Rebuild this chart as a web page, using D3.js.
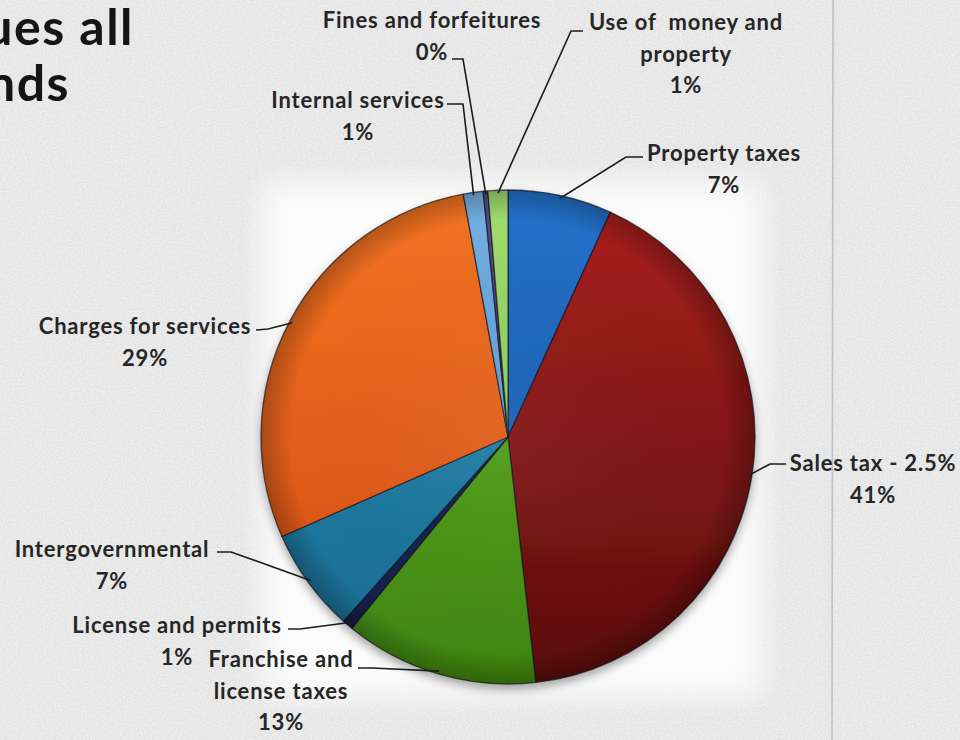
<!DOCTYPE html>
<html>
<head>
<meta charset="utf-8">
<script src="https://cdn.jsdelivr.net/npm/d3@7/dist/d3.min.js"></script>
<style>
  html, body { margin: 0; padding: 0; background: #e4e4e4; }
  svg { display: block; }
  text { font-family: Lato, "Open Sans", sans-serif; white-space: pre; }
</style>
</head>
<body>
<svg id="chart" width="960" height="740"></svg>
<script>
// Revenue sources, in pie order (clockwise from 12 o'clock)
const categories = [
  "Property taxes", "Sales tax - 2.5%", "Franchise and license taxes",
  "License and permits", "Intergovernmental", "Charges for services",
  "Internal services", "Fines and forfeitures", "Use of  money and property"
];
// Share of total revenue, percent
const shares = [6.8, 41.4, 12.7, 0.7, 6.8, 28.7, 1.3, 0.3, 1.3];
// Label text broken into lines (the percentage line is added below)
const labelLines = [
  ["Property taxes"], ["Sales tax - 2.5%"], ["Franchise and", "license taxes"],
  ["License and permits"], ["Intergovernmental"], ["Charges for services"],
  ["Internal services"], ["Fines and forfeitures"], ["Use of  money and", "property"]
];
const titleLines = ["Revenues all", "funds"];

// Slice colours: [light, dark]
const sliceColors = [
  ["#2472cc", "#144e98"],
  ["#ab211e", "#5a0c0c"],
  ["#64b626", "#3f8410"],
  ["#22306a", "#141c44"],
  ["#2c92bc", "#17688e"],
  ["#f47422", "#cf4a14"],
  ["#74b0e2", "#4a8ac8"],
  ["#5a4c86", "#3a3060"],
  ["#a2dc70", "#74b842"]
];

// Label placement: text centre x, first baseline y, leader start and elbow
const labelLayout = [
  { x: 724, y: 161, sx: 643, sy: 157, ex: 626, ey: 157 },
  { x: 873, y: 471, sx: 786, sy: 464, ex: 770, ey: 464 },
  { x: 281, y: 667, sx: 358, sy: 668, ex: 372, ey: 668 },
  { x: 177, y: 633, sx: 288, sy: 629, ex: 300, ey: 629 },
  { x: 112, y: 557, sx: 217, sy: 552, ex: 231, ey: 552 },
  { x: 145, y: 334, sx: 256, sy: 330, ex: 268, ey: 329 },
  { x: 358, y: 108, sx: 447, sy: 104, ex: 463, ey: 104 },
  { x: 432, y: 28,  sx: 452, sy: 59,  ex: 463, ey: 59 },
  { x: 686, y: 30,  sx: 583, sy: 31,  ex: 571, ey: 31 }
];

const W = 960, H = 740;
const cx = 508, cy = 437, R = 247;
const lineH = 31.5;

const svg = d3.select("#chart");
const defs = svg.append("defs");

// paper grain
const grain = defs.append("filter").attr("id", "grain")
  .attr("x", 0).attr("y", 0).attr("width", "100%").attr("height", "100%");
grain.append("feTurbulence").attr("type", "fractalNoise")
  .attr("baseFrequency", 0.55).attr("numOctaves", 3).attr("seed", 7).attr("result", "n");
grain.append("feColorMatrix").attr("in", "n").attr("type", "matrix")
  .attr("values", "0 0 0 0 1  0 0 0 0 1  0 0 0 0 1  0 0 0 -1.6 1.05");

const soft = defs.append("filter").attr("id", "soft")
  .attr("x", "-20%").attr("y", "-20%").attr("width", "140%").attr("height", "140%");
soft.append("feGaussianBlur").attr("stdDeviation", 14);

const shadow = defs.append("filter").attr("id", "shadow")
  .attr("x", "-10%").attr("y", "-10%").attr("width", "120%").attr("height", "125%");
shadow.append("feDropShadow").attr("dx", 0).attr("dy", 5)
  .attr("stdDeviation", 5).attr("flood-color", "#000").attr("flood-opacity", 0.35);

// page background
svg.append("rect").attr("width", W).attr("height", H).attr("fill", "#e4e4e4");
svg.append("rect").attr("width", W).attr("height", H)
  .attr("filter", "url(#grain)").attr("opacity", 0.55);
// lighter plot area behind the pie
svg.append("rect").attr("x", 262).attr("y", 182).attr("width", 500).attr("height", 515)
  .attr("fill", "#fbfbfb").attr("filter", "url(#soft)");
// page fold
svg.append("line").attr("x1", 833).attr("x2", 832).attr("y1", 0).attr("y2", H)
  .attr("stroke", "#b8b8b8").attr("stroke-width", 1.6).attr("opacity", 0.8);

// title (runs off the left edge of the page)
svg.append("g").selectAll("text").data(titleLines).join("text")
  .attr("x", (d, i) => i === 0 ? 134 : 70)
  .attr("y", (d, i) => 45 + i * 56)
  .attr("text-anchor", "end")
  .attr("font-size", 50).attr("letter-spacing", 1.5)
  .attr("font-weight", 700).attr("fill", "#151515")
  .text(d => d);

// slice gradients, in pie-local coordinates
sliceColors.forEach((c, i) => {
  const g = defs.append("linearGradient").attr("id", "sg" + i)
    .attr("gradientUnits", "userSpaceOnUse")
    .attr("x1", 0).attr("y1", -R).attr("x2", 0).attr("y2", R);
  g.append("stop").attr("offset", "0%").attr("stop-color", c[0]);
  g.append("stop").attr("offset", "100%").attr("stop-color", c[1]);
});
// rim shading
const rim = defs.append("radialGradient").attr("id", "rim")
  .attr("gradientUnits", "userSpaceOnUse").attr("cx", 0).attr("cy", 0).attr("r", R);
rim.append("stop").attr("offset", "0%").attr("stop-color", "#fff").attr("stop-opacity", 0.04);
rim.append("stop").attr("offset", "88%").attr("stop-color", "#000").attr("stop-opacity", 0);
rim.append("stop").attr("offset", "100%").attr("stop-color", "#000").attr("stop-opacity", 0.25);

const pie = d3.pie().sort(null).value(d => d)(shares);
const arc = d3.arc().innerRadius(0).outerRadius(R);

const pieG = svg.append("g").attr("transform", `translate(${cx},${cy})`);
pieG.append("g").attr("filter", "url(#shadow)")
  .selectAll("path").data(pie).join("path")
  .attr("d", arc)
  .attr("fill", (d, i) => `url(#sg${i})`)
  .attr("stroke", "rgba(10,10,20,0.6)").attr("stroke-width", 1.3)
  .attr("stroke-linejoin", "round");
pieG.append("path")
  .attr("d", d3.arc().innerRadius(0).outerRadius(R).startAngle(0).endAngle(2 * Math.PI)())
  .attr("fill", "url(#rim)").attr("pointer-events", "none");

// labels and leader lines
const pct = v => Math.round(v) + "%";
const labels = svg.append("g");
pie.forEach((d, i) => {
  const L = labelLayout[i];
  const a = (d.startAngle + d.endAngle) / 2;
  const px = cx + Math.sin(a) * (R - 3);
  const py = cy - Math.cos(a) * (R - 3);
  labels.append("path")
    .attr("d", d3.line()([[L.sx, L.sy], [L.ex, L.ey], [px, py]]))
    .attr("fill", "none").attr("stroke", "#1c1c1c").attr("stroke-width", 1.6);
  const lines = labelLines[i].concat([pct(shares[i])]);
  const t = labels.append("text")
    .attr("text-anchor", "middle")
    .attr("font-size", 22).attr("letter-spacing", 0.8)
    .attr("font-weight", 700).attr("fill", "#262626");
  lines.forEach((s, k) => {
    t.append("tspan").attr("x", L.x).attr("y", L.y + k * lineH).text(s);
  });
});
</script>
</body>
</html>
